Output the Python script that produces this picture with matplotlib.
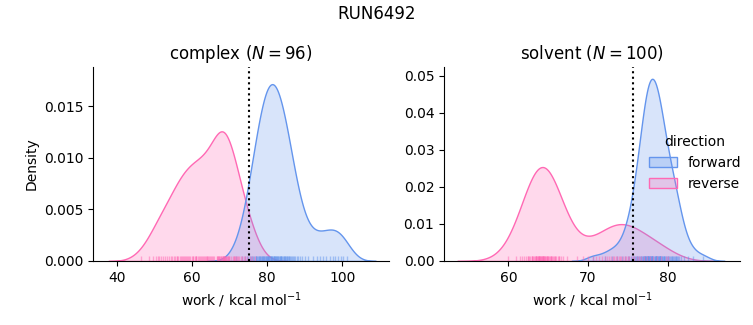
import matplotlib

matplotlib.use("Agg")
import matplotlib.pyplot as plt  # noqa: E402
import pandas as pd  # noqa: E402
import seaborn as sns  # noqa: E402

# 作業量 (kcal/mol) のサンプル: 図のラグ位置と KDE 形状から読み取った近似値
COMPLEX_FORWARD = [
    71.8, 73.2, 74.0, 74.6, 75.0, 75.4, 75.7, 76.0, 76.3, 76.6,
    76.9, 77.1, 77.3, 77.5, 77.7, 77.9, 78.1, 78.3, 78.5, 78.7,
    78.9, 79.1, 79.2, 79.4, 79.6, 79.7, 79.9, 80.0, 80.2, 80.3,
    80.5, 80.6, 80.8, 80.9, 81.1, 81.2, 81.4, 81.5, 81.7, 81.8,
    82.0, 82.1, 82.3, 82.4, 82.6, 82.8, 82.9, 83.1, 83.3, 83.5,
    83.6, 83.8, 84.0, 84.2, 84.4, 84.6, 84.8, 85.0, 85.2, 85.4,
    85.6, 85.8, 86.1, 86.3, 86.6, 86.9, 87.2, 87.5, 87.9, 88.3,
    88.8, 89.4,
    77.0, 78.0, 79.0, 80.1, 81.0, 81.9, 82.7, 83.7, 84.7, 85.9,
    90.2, 91.0, 92.1, 93.3, 94.0, 95.0, 95.8, 96.8, 97.5, 98.2,
    98.9, 99.6, 100.3, 101.2,
]
COMPLEX_REVERSE = [
    46.2, 48.5, 49.6,
    50.3, 50.9, 51.2, 51.6, 52.2, 52.8, 53.3, 53.9,
    54.3, 54.7, 55.1, 55.5, 55.9, 56.0, 56.3, 56.6, 57.0, 57.3, 57.5, 57.7, 58.0,
    58.3, 58.6, 58.9, 59.2, 59.5, 59.8, 60.1, 60.3, 60.6, 60.9, 61.0,
    61.1, 61.4, 61.7, 62.0,
    62.3, 62.6, 62.9, 63.1, 63.3, 63.6, 63.9, 64.0, 64.2, 64.5, 64.8,
    65.1, 65.3, 65.6, 65.8, 68.3, 68.5, 68.7, 66.5, 66.6, 66.8, 67.0, 67.1, 67.2,
    67.4, 67.6, 67.8, 68.0, 68.1, 68.2, 68.4, 68.6, 68.8, 68.9, 69.0, 69.3, 69.5,
    69.6, 69.8, 69.9,
    70.4, 70.8, 71.1, 71.2, 71.4, 71.7, 72.0, 72.3, 72.6, 72.9, 73.3, 73.7, 74.2,
    74.7, 75.3, 76.0, 76.8,
]
SOLVENT_FORWARD = [
    70.6, 72.1, 73.0,
    73.6, 74.3, 74.7, 75.0, 75.2, 75.4, 75.6, 75.8, 75.9, 76.0,
    76.1, 76.2, 76.3, 76.4, 76.5, 76.6, 76.7, 76.8, 76.9, 77.0,
    77.0, 77.1, 77.2, 77.2, 77.3, 77.4, 77.4, 77.5, 77.5, 77.6,
    77.6, 77.7, 77.7, 77.8, 77.8, 77.9, 77.9, 78.0, 78.0, 78.0,
    77.8, 78.0, 78.1, 77.5, 77.3, 78.2, 76.9, 77.1,
    78.3, 78.4, 78.5, 78.5, 79.0, 78.6, 78.4, 78.6, 78.6, 78.7,
    78.7, 78.8, 78.8, 78.9, 78.9, 79.0, 79.0, 79.1, 79.1, 79.2,
    79.3, 79.3, 79.4, 79.5, 79.5, 79.6, 79.7, 79.8, 79.9, 80.0,
    80.1, 80.2, 80.3, 80.4, 80.5, 80.6, 80.7, 80.9, 81.1, 81.3,
    80.8, 81.0, 81.2, 81.4, 81.7, 82.1, 82.6, 83.2,
    84.5,
]
SOLVENT_REVERSE = [
    60.0, 60.9, 61.4, 61.7, 62.0, 62.2, 62.4, 62.5, 62.6, 62.7,
    62.9, 63.0, 63.0, 63.1, 63.2, 63.3, 63.4, 63.4, 63.5, 63.5,
    63.6, 63.7, 63.7, 63.8, 63.8, 63.9, 63.9, 64.0, 64.0, 64.1,
    64.1, 64.2, 64.2, 66.3, 64.3, 64.3, 64.4, 64.4, 64.5, 64.5,
    64.6, 64.6, 64.7, 64.8, 64.8, 64.9, 65.0, 65.0, 65.1, 65.2,
    65.3, 65.4, 65.4, 65.5, 65.6, 65.7, 65.8, 65.9, 66.0, 66.2,
    66.4, 66.6, 66.9, 67.4,
    68.6, 69.4, 70.0, 70.6, 71.0, 71.4, 71.8, 72.1, 72.4, 72.7,
    72.9, 73.1, 73.3, 73.5, 73.7, 73.9, 74.0, 74.2, 74.4, 74.6,
    74.8, 75.0, 75.2, 75.5, 75.8, 76.1, 76.4, 76.7, 77.0, 77.4,
    77.8, 78.2, 78.7, 79.2, 79.8, 80.0,
]
# 点線 (各フェーズの推定値)
MARKER_WORK = {"complex": 75.1, "solvent": 75.65}
N_PAIRS = {"complex": 96, "solvent": 100}

PALETTE = {"forward": "#6495ED", "reverse": "#FF69B4"}

frames = []
for phase, direction, values in [
    ("complex", "forward", COMPLEX_FORWARD),
    ("complex", "reverse", COMPLEX_REVERSE),
    ("solvent", "forward", SOLVENT_FORWARD),
    ("solvent", "reverse", SOLVENT_REVERSE),
]:
    frames.append(pd.DataFrame({"work": values, "direction": direction, "phase": phase}))
df = pd.concat(frames, ignore_index=True)

g = sns.displot(
    df, x="work", hue="direction", col="phase", kind="kde", fill=True, rug=True,
    palette=PALETTE, hue_order=["forward", "reverse"],
    rug_kws={"alpha": 0.5},
    facet_kws={"sharex": False, "sharey": False},
    height=3.0, aspect=1.0,
)
fig = g.figure
fig.set_size_inches(7.53, 3.25)
fig.set_dpi(100)

xlims = {"complex": (33.5, 112.5), "solvent": (51.9, 89.1)}
ylims = {"complex": (0, 0.0188), "solvent": (0, 0.0524)}
for phase, ax in g.axes_dict.items():
    ax.axvline(MARKER_WORK[phase], color="k", linestyle=":", linewidth=1.5)
    ax.set_title(f"{phase} ($N = {N_PAIRS[phase]}$)", fontsize=12)
    ax.set_xlabel("work / kcal mol$^{-1}$")
    ax.set_xlim(*xlims[phase])
    ax.set_ylim(*ylims[phase])
g.axes_dict["complex"].set_ylabel("Density")

fig.suptitle("RUN6492", fontsize=12, y=0.985)
fig.subplots_adjust(left=0.1235, right=0.9827, bottom=0.197, top=0.794, wspace=0.186)
sns.move_legend(g, "upper left", bbox_to_anchor=(0.845, 0.623), frameon=False)

fig.savefig("out.png", dpi=100)
